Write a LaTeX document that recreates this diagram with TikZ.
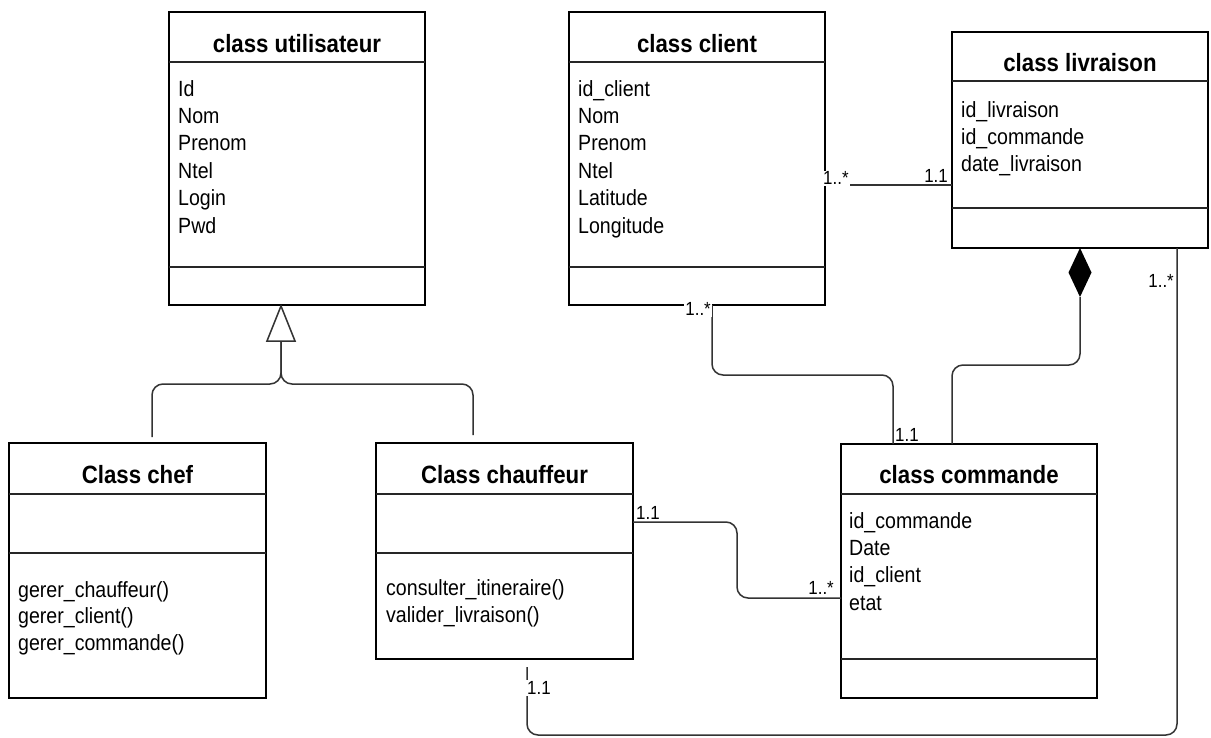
\documentclass[tikz,border=0pt]{standalone}
\usepackage{fontspec}
\newfontfamily\umlfont{Liberation Sans}[FakeStretch=0.89]
\usetikzlibrary{calc}

\begin{document}
\begin{tikzpicture}[x=1pt,y=-1pt,
  box/.style={draw=black, line width=1.8pt, anchor=north west, inner sep=0pt, outer sep=0pt, fill=white},
  rule/.style={draw=black!85, line width=1.8pt},
  ctitle/.style={anchor=base, inner sep=0pt, font=\umlfont\bfseries\fontsize{25}{28}\selectfont},
  members/.style={anchor=north west, inner sep=0pt, align=left, font=\umlfont\fontsize{22}{27.4}\selectfont},
  link/.style={draw=black!80, line width=1.5pt, rounded corners=11pt},
  mult/.style={font=\umlfont\fontsize{19}{21}\selectfont, inner sep=1pt, fill=white},
]
\fill[white] (0,0) rectangle (1211,737);
\useasboundingbox (0,0) rectangle (1211,737);

% ---- class utilisateur
\node[box, minimum width=256pt, minimum height=293pt] (util) at (169,12) {};
\draw[rule] ($(util.north west)+(0,50)$) -- ($(util.north east)+(0,50)$);
\draw[rule] ($(util.north west)+(0,255)$) -- ($(util.north east)+(0,255)$);
\node[ctitle] (util-title) at ($(util.north)+(0,40)$) {class utilisateur};
\node[members] (util-attr) at ($(util.north west)+(9,68)$) {Id\\Nom\\Prenom\\Ntel\\Login\\Pwd};

% ---- class client
\node[box, minimum width=256pt, minimum height=293pt] (client) at (569,12) {};
\draw[rule] ($(client.north west)+(0,50)$) -- ($(client.north east)+(0,50)$);
\draw[rule] ($(client.north west)+(0,255)$) -- ($(client.north east)+(0,255)$);
\node[ctitle] (client-title) at ($(client.north)+(0,40)$) {class client};
\node[members] (client-attr) at ($(client.north west)+(9,68)$) {id\_client\\Nom\\Prenom\\Ntel\\Latitude\\Longitude};

% ---- class livraison
\node[box, minimum width=256pt, minimum height=216pt] (livr) at (952,32) {};
\draw[rule] ($(livr.north west)+(0,49)$) -- ($(livr.north east)+(0,49)$);
\draw[rule] ($(livr.north west)+(0,176)$) -- ($(livr.north east)+(0,176)$);
\node[ctitle] (livr-title) at ($(livr.north)+(0,39)$) {class livraison};
\node[members] (livr-attr) at ($(livr.north west)+(9,69)$) {id\_livraison\\id\_commande\\date\_livraison};

% ---- Class chef
\node[box, minimum width=257pt, minimum height=255pt] (chef) at (9,443) {};
\draw[rule] ($(chef.north west)+(0,51)$) -- ($(chef.north east)+(0,51)$);
\draw[rule] ($(chef.north west)+(0,110)$) -- ($(chef.north east)+(0,110)$);
\node[ctitle] (chef-title) at ($(chef.north)+(0,40)$) {Class chef};
\node[members, font=\umlfont\fontsize{22}{26.6}\selectfont] (chef-ops) at ($(chef.north west)+(9,138)$) {gerer\_chauffeur()\\gerer\_client()\\gerer\_commande()};

% ---- Class chauffeur
\node[box, minimum width=257pt, minimum height=216pt] (chauf) at (376,443) {};
\draw[rule] ($(chauf.north west)+(0,51)$) -- ($(chauf.north east)+(0,51)$);
\draw[rule] ($(chauf.north west)+(0,110)$) -- ($(chauf.north east)+(0,110)$);
\node[ctitle] (chauf-title) at ($(chauf.north)+(0,40)$) {Class chauffeur};
\node[members] (chauf-ops) at ($(chauf.north west)+(10,136)$) {consulter\_itineraire()\\valider\_livraison()};

% ---- class commande
\node[box, minimum width=256pt, minimum height=254pt] (cmd) at (841,444) {};
\draw[rule] ($(cmd.north west)+(0,50)$) -- ($(cmd.north east)+(0,50)$);
\draw[rule] ($(cmd.north west)+(0,215)$) -- ($(cmd.north east)+(0,215)$);
\node[ctitle] (cmd-title) at ($(cmd.north)+(0,39)$) {class commande};
\node[members] (cmd-attr) at ($(cmd.north west)+(8,68)$) {id\_commande\\Date\\id\_client\\etat};

% ---- generalization: chef, chauffeur -> utilisateur
\coordinate (gen-tip) at ($(util.south west)+(112,1)$);
\coordinate (gen-base) at ($(gen-tip)+(0,35)$);
\coordinate (gen-fork) at ($(gen-base)+(0,43)$);
\draw[link] ($(chef.north west)+(143,-6)$) |- (gen-fork) -- (gen-base);
\draw[link] ($(chauf.north west)+(97,-8)$) |- (gen-fork) -- (gen-base);
\draw[draw=black!80, line width=1.5pt, fill=white, line join=miter]
  (gen-tip) -- ($(gen-base)+(-14,0)$) -- ($(gen-base)+(14,0)$) -- cycle;

% ---- client -- livraison
\draw[link] ($(client.north east)+(0,173)$) -- ($(livr.north west)+(0,153)$);
\node[mult, anchor=south west] (m-cl-l) at ($(client.north east)+(-3,174)$) {1..*};
\node[mult, anchor=south east, fill=none] (m-l-cl) at ($(livr.north west)+(-3,152)$) {1.1};

% ---- client -- commande
\draw[link] ($(client.south west)+(143,0)$) -- ++(0,70) -| ($(cmd.north west)+(52,0)$);
\node[mult, anchor=east] (m-cl-c) at ($(client.south west)+(143,4)$) {1..*};
\node[mult, anchor=south west, fill=none] (m-c-cl) at ($(cmd.north west)+(53,-1)$) {1.1};

% ---- composition: commande -> livraison
\coordinate (comp-top) at ($(livr.south west)+(128,0)$);
\coordinate (comp-bot) at ($(comp-top)+(0,49)$);
\draw[link] (comp-bot) -- ++(0,68) -| ($(cmd.north west)+(111,0)$);
\fill[black] (comp-top) -- ($(comp-top)+(11.5,24.5)$) -- (comp-bot) -- ($(comp-top)+(-11.5,24.5)$) -- cycle;

% ---- chauffeur -- commande
\draw[link] ($(chauf.north east)+(0,79)$) -- ++(104,0) |- ($(cmd.north west)+(0,154)$);
\node[mult, anchor=south west, fill=none] (m-ch-c) at ($(chauf.north east)+(2,78)$) {1.1};
\node[mult, anchor=south east, fill=none] (m-c-ch) at ($(cmd.north west)+(-6,152)$) {1..*};

% ---- chauffeur -- livraison
\draw[link] ($(livr.south east)+(-31,0)$) |- ($(chauf.south west)+(151,76)$) -- ($(chauf.south west)+(151,8)$);
\node[mult, anchor=south east, fill=none] (m-l-ch) at ($(livr.south east)+(-33,41)$) {1..*};
\node[mult, anchor=west] (m-ch-l) at ($(chauf.south west)+(150,29)$) {1.1};

\end{tikzpicture}
\end{document}
